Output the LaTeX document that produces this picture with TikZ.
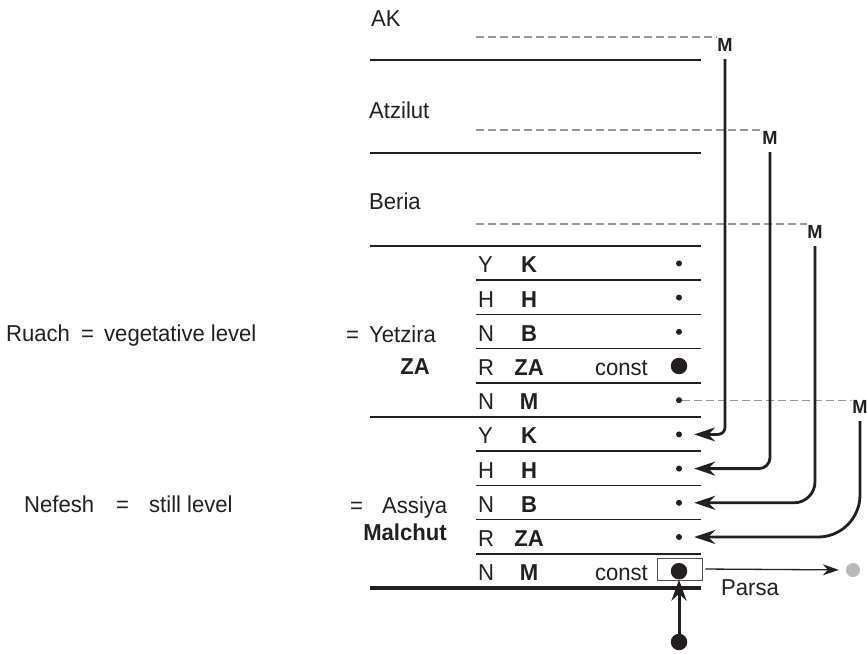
\documentclass[tikz,border=0pt]{standalone}
\usepackage{fontspec}
\setmainfont{Liberation Sans}[FakeStretch=0.96]
\usetikzlibrary{arrows.meta}

\definecolor{ink}{RGB}{35,31,32}
\definecolor{dashgray}{RGB}{150,150,150}
\definecolor{parsagray}{RGB}{185,185,185}

\begin{document}
\begin{tikzpicture}[
    x=1pt, y=-1pt,
    every node/.style={font=\fontsize{23}{27}\selectfont, text=ink, inner sep=0pt},
% Text styles
    world/.style={anchor=base west},
    rowl/.style={anchor=base west},
    rowb/.style={anchor=base, font=\fontsize{23}{27}\selectfont\bfseries},
    eqs/.style={anchor=base},
    mlab/.style={anchor=base, font=\fontsize{19}{22}\selectfont\bfseries},
% Dot styles
    sdot/.style={circle, fill=ink, minimum size=6pt},
    bdot/.style={circle, fill=ink, minimum size=16.5pt},
% Line styles
    sep/.style={draw=ink, line width=1.6pt},
    dashln/.style={draw=dashgray, line width=1.2pt, dash pattern=on 8pt off 4pt},
    flow/.style={draw=ink, line width=2.8pt, -{Stealth[length=21pt, width=14pt]}, shorten <=8pt, shorten >=12pt}
]
\useasboundingbox (0,0) rectangle (867,653);

% 1. Upper worlds
\node[world] (ak) at (371, 26) {AK};
\node[world] (atzilut) at (369, 118) {Atzilut};
\node[world] (beria) at (369, 209) {Beria};
\draw[sep] (370, 60) -- (701, 60);
\draw[sep] (370, 153) -- (701, 153);
\draw[sep] (370, 246) -- (701, 246);

% M labels of the worlds
\node[mlab] (m1) at (725, 51) {M};
\node[mlab] (m2) at (770, 144) {M};
\node[mlab] (m3) at (815, 238) {M};
\node[mlab] (m4) at (860, 413) {M};

\coordinate (d1) at (476, 37);
\coordinate (d2) at (476, 130);
\coordinate (d3) at (476, 224);
\draw[dashln] (d1) -- (d1 -| m1.west);
\draw[dashln] (d2) -- (d2 -| m2.west);
\draw[dashln] (d3) -- (d3 -| m3.west);

% 2. Yetzira rows
\foreach \i/\a/\b/\s in {1/Y/K/sdot, 2/H/H/sdot, 3/N/B/sdot, 4/R/ZA/bdot, 5/N/M/sdot} {
    \node[rowl] (yl\i) at (478, 238.7+34.2*\i) {\a};
    \node[rowb] (yb\i) at (529, 238.7+34.2*\i) {\b};
    \node[\s] (yd\i) at (679, 229.2+34.2*\i) {};
}
\node[anchor=base east] (yconst) at (648, 375.5) {const};

% 3. Assiya rows
\foreach \i/\a/\b/\s in {1/Y/K/sdot, 2/H/H/sdot, 3/N/B/sdot, 4/R/ZA/sdot, 5/N/M/bdot} {
    \node[rowl] (al\i) at (478, 409.7+34.2*\i) {\a};
    \node[rowb] (ab\i) at (529, 409.7+34.2*\i) {\b};
}
\node[draw=ink!80, line width=0.8pt, minimum width=45pt, minimum height=22pt] (cbox) at (679.5, 569) {};
\foreach \i/\s in {1/sdot, 2/sdot, 3/sdot, 4/sdot, 5/bdot}
    \node[\s] (ad\i) at (679, 400.2+34.2*\i) {};
\node[anchor=base east] (aconst) at (648, 580) {const};

% row separators
\foreach \k in {1,2,3,6,7,8,9}
    \draw[sep] (476, 246+34.2*\k) -- (701, 246+34.2*\k);
\draw[draw=ink, line width=2.4pt] (476, 382.8) -- (701, 382.8);
\draw[sep] (370, 417) -- (701, 417);
\draw[draw=ink, line width=4.5pt] (370, 588) -- (701, 588);

% 4. Left labels
\node[anchor=base west] (ruach) at (6, 341) {Ruach};
\node[eqs] (ruacheq) at (87.5, 341) {=};
\node[anchor=base west] (veg) at (104, 341) {vegetative level};
\node[eqs] (yetzeq) at (352.5, 342) {=};
\node[anchor=base west] (yetzira) at (369, 342) {Yetzira};
\node[rowb] (za) at (415, 374) {ZA};
\node[anchor=base west] (nefesh) at (24, 512) {Nefesh};
\node[eqs] (nefesheq) at (122.5, 512) {=};
\node[anchor=base west] (still) at (149, 512) {still level};
\node[eqs] (assiyaeq) at (356.5, 513) {=};
\node[anchor=base west] (assiya) at (382, 513) {Assiya};
\node[rowb] (malchut) at (405, 540) {Malchut};

% 5. M flows down into Assiya
\draw[dashln] (yd5) -- (yd5 -| m4.west);
\draw[flow, rounded corners=7pt] (m1.south) |- (ad1);
\draw[flow, rounded corners=11pt] (m2.south) |- (ad2);
\draw[flow, rounded corners=21pt] (m3.south) |- (ad3);
\draw[flow, rounded corners=42pt] (m4.south) |- (ad4);

% 6. Source below and Parsa
\node[bdot] (src) at (679, 642) {};
\draw[draw=ink, line width=3pt, -{Stealth[length=21pt, width=15pt]}] (src) -- (ad5);
\node[circle, fill=parsagray, minimum size=14pt] (pdot) at (853, 570) {};
\draw[draw=ink, line width=1.3pt, -{Stealth[length=16pt, width=11pt]}, shorten <=3pt, shorten >=7pt] (cbox.east) -- (pdot);
\node[anchor=base west] (parsa) at (721, 595) {Parsa};

\end{tikzpicture}
\end{document}
